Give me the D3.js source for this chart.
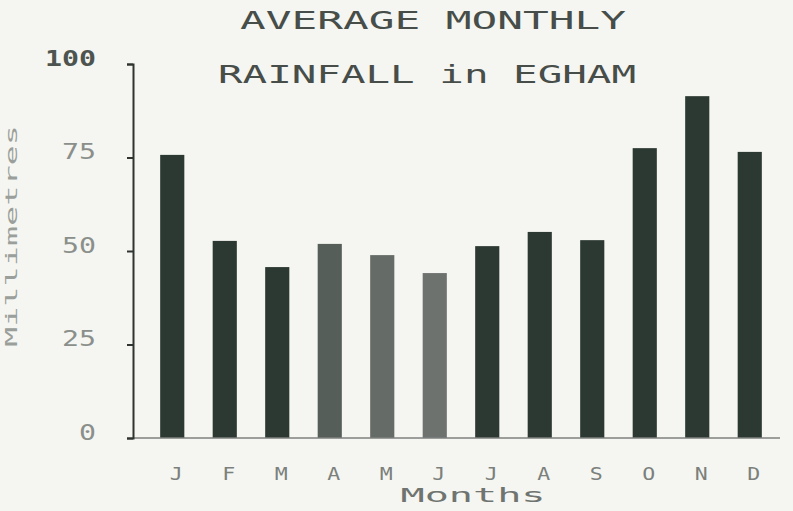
<!DOCTYPE html>
<html>
<head>
<meta charset="utf-8">
<script src="https://cdn.jsdelivr.net/npm/d3@7"></script>
<style>
  html, body { margin: 0; padding: 0; background: #f5f6f1; }
  svg { display: block; }
  text { font-family: "DejaVu Sans Mono", "Liberation Mono", monospace; }
</style>
</head>
<body>
<svg id="chart" width="793" height="511"></svg>
<script>
// Average monthly rainfall in Egham (mm)
const months = ["J", "F", "M", "A", "M", "J", "J", "A", "S", "O", "N", "D"];
const monthIds = ["Jan", "Feb", "Mar", "Apr", "May", "Jun", "Jul", "Aug", "Sep", "Oct", "Nov", "Dec"];
const rainfall = [75.7, 52.7, 45.7, 51.9, 48.9, 44.1, 51.3, 55.1, 52.9, 77.5, 91.4, 76.5];
const yTicks = [0, 25, 50, 75, 100];
const titleLines = ["AVERAGE MONTHLY", "RAINFALL in EGHAM"];

// Bar shades: the spring/early-summer bars print lighter
const shades = ["#2c3832", "#2c3832", "#2c3832", "#565e59", "#656b67", "#6d726f",
                "#2c3832", "#2c3832", "#2c3832", "#2c3832", "#2c3832", "#2c3832"];

const svg = d3.select("#chart");

const x = d3.scaleBand()
  .domain(monthIds)
  .range([146, 776])
  .paddingInner(0.54)
  .paddingOuter(0.27);

const y = d3.scaleLinear()
  .domain([0, 100])
  .range([438, 64]);

const colour = d3.scaleOrdinal(monthIds, shades);

// Bars
svg.append("g")
  .selectAll("rect")
  .data(rainfall)
  .join("rect")
  .attr("x", (d, i) => x(monthIds[i]))
  .attr("y", d => y(d))
  .attr("width", x.bandwidth())
  .attr("height", d => y(0) - y(d))
  .attr("fill", (d, i) => colour(monthIds[i]));

// Baseline
svg.append("line")
  .attr("x1", 133).attr("x2", 780)
  .attr("y1", y(0)).attr("y2", y(0))
  .attr("stroke", "#7d817e")
  .attr("stroke-width", 1.5);

// Y axis
const yAxis = svg.append("g")
  .attr("transform", "translate(133,0)")
  .call(d3.axisLeft(y).tickValues(yTicks).tickSize(6).tickSizeOuter(6).tickPadding(31));

yAxis.select(".domain").attr("stroke", "#2f3431").attr("stroke-width", 2);
yAxis.selectAll(".tick line").attr("stroke", "#2f3431").attr("stroke-width", 2);
yAxis.selectAll(".tick text")
  .attr("fill", d => d === 100 ? "#4d5450" : "#8a8f8b")
  .attr("font-size", 21)
  .attr("font-weight", d => d === 100 ? "bold" : "normal")
  .attr("dy", "0.05em")
  .attr("textLength", d => String(d).length * 17)
  .attr("lengthAdjust", "spacingAndGlyphs");

// X labels (single wide glyphs)
svg.append("g")
  .selectAll("text")
  .data(months)
  .join("text")
  .attr("x", (d, i) => x(monthIds[i]) + x.bandwidth() / 2 + 4)
  .attr("y", 480)
  .attr("text-anchor", "middle")
  .attr("font-size", 17)
  .attr("fill", "#7b807c")
  .attr("textLength", 13)
  .attr("lengthAdjust", "spacingAndGlyphs")
  .text(d => d);

// Axis titles
svg.append("text")
  .attr("x", 473).attr("y", 502)
  .attr("text-anchor", "middle")
  .attr("font-size", 20)
  .attr("fill", "#6f7470")
  .attr("textLength", 145)
  .attr("lengthAdjust", "spacingAndGlyphs")
  .text("Months");

svg.append("text")
  .attr("transform", "translate(17,236) rotate(-90)")
  .attr("text-anchor", "middle")
  .attr("font-size", 16)
  .attr("fill", "#9a9f9b")
  .attr("textLength", 222)
  .attr("lengthAdjust", "spacingAndGlyphs")
  .text("Millimetres");

// Title
const titleY = [29, 83];
const titleX = [[240, 626], [218, 636]];
svg.append("g")
  .selectAll("text")
  .data(titleLines)
  .join("text")
  .attr("x", (d, i) => titleX[i][0])
  .attr("y", (d, i) => titleY[i])
  .attr("font-size", 24)
  .attr("fill", "#474d49")
  .attr("textLength", (d, i) => titleX[i][1] - titleX[i][0])
  .attr("lengthAdjust", "spacingAndGlyphs")
  .text(d => d);
</script>
</body>
</html>
